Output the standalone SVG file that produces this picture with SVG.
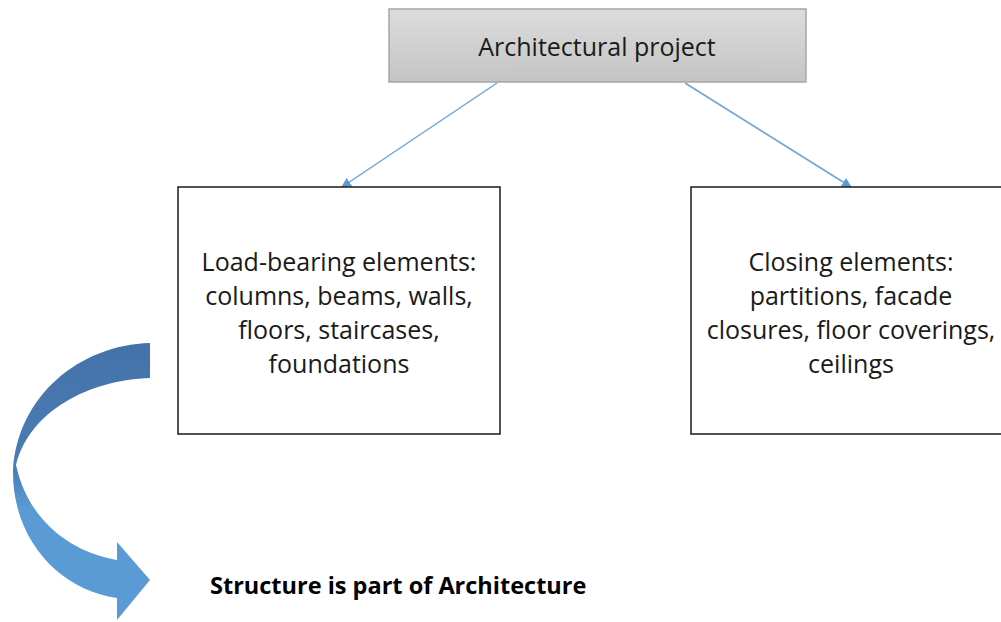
<svg xmlns="http://www.w3.org/2000/svg" width="1001" height="622" viewBox="0 0 1001 622">
<defs>
<linearGradient id="gray" x1="0" y1="0" x2="0" y2="1">
<stop offset="0" stop-color="#dcdcdc"/>
<stop offset="1" stop-color="#c4c4c4"/>
</linearGradient>
<linearGradient id="blue" x1="0" y1="343" x2="0" y2="620" gradientUnits="userSpaceOnUse">
<stop offset="0" stop-color="#4472a8"/>
<stop offset="0.45" stop-color="#4a7db5"/>
<stop offset="0.6" stop-color="#5b9bd5"/>
<stop offset="1" stop-color="#5b9bd5"/>
</linearGradient>
<marker id="ah" viewBox="0 0 10 10" refX="9" refY="5" markerWidth="10" markerHeight="10" markerUnits="userSpaceOnUse" orient="auto">
<path d="M0,0 L10,5 L0,10 Z" fill="#5b9bd5"/>
</marker>
</defs>
<style>
.box{fill:#ffffff;stroke:#1a1a1a;stroke-width:1.5}
.t{font-family:"Open Sans","Liberation Sans",sans-serif;font-size:25px;fill:#1a1a1a;text-anchor:middle}
.conn{stroke:#6fa3d8;stroke-width:1.5;fill:none}
</style>
<rect width="1001" height="622" fill="#ffffff"/>
<g id="connectors">
<line class="conn" x1="497" y1="83" x2="342" y2="187" marker-end="url(#ah)"/>
<line class="conn" x1="685" y1="83" x2="851" y2="187" marker-end="url(#ah)"/>
</g>
<g id="node-project">
<rect x="389" y="9" width="417" height="73" fill="url(#gray)" stroke="#a6a6a6" stroke-width="1.5"/>
<text class="t" x="597" y="56">Architectural project</text>
</g>
<g id="node-load">
<rect class="box" x="178" y="187" width="322" height="247"/>
<text class="t" x="339" y="271">Load-bearing elements:</text>
<text class="t" x="339" y="305">columns, beams, walls,</text>
<text class="t" x="339" y="339">floors, staircases,</text>
<text class="t" x="339" y="373">foundations</text>
</g>
<g id="node-closing">
<rect class="box" x="691" y="187" width="340" height="247"/>
<text class="t" x="851" y="271">Closing elements:</text>
<text class="t" x="851" y="305">partitions, facade</text>
<text class="t" x="851" y="339">closures, floor coverings,</text>
<text class="t" x="851" y="373">ceilings</text>
</g>
<g id="curved-arrow">
<path d="M150,343 C80,345 18,395 13,470 C12,540 60,590 117,598 L117,620 L150,580 L117,542 L117,560 C70,552 28,520 16,465 C30,410 90,380 150,378 Z" fill="url(#blue)"/>
</g>
<g id="caption">
<text x="210" y="594" font-family="'Open Sans','Liberation Sans',sans-serif" font-size="23.5" font-weight="bold" fill="#000000">Structure is part of Architecture</text>
</g>
</svg>
